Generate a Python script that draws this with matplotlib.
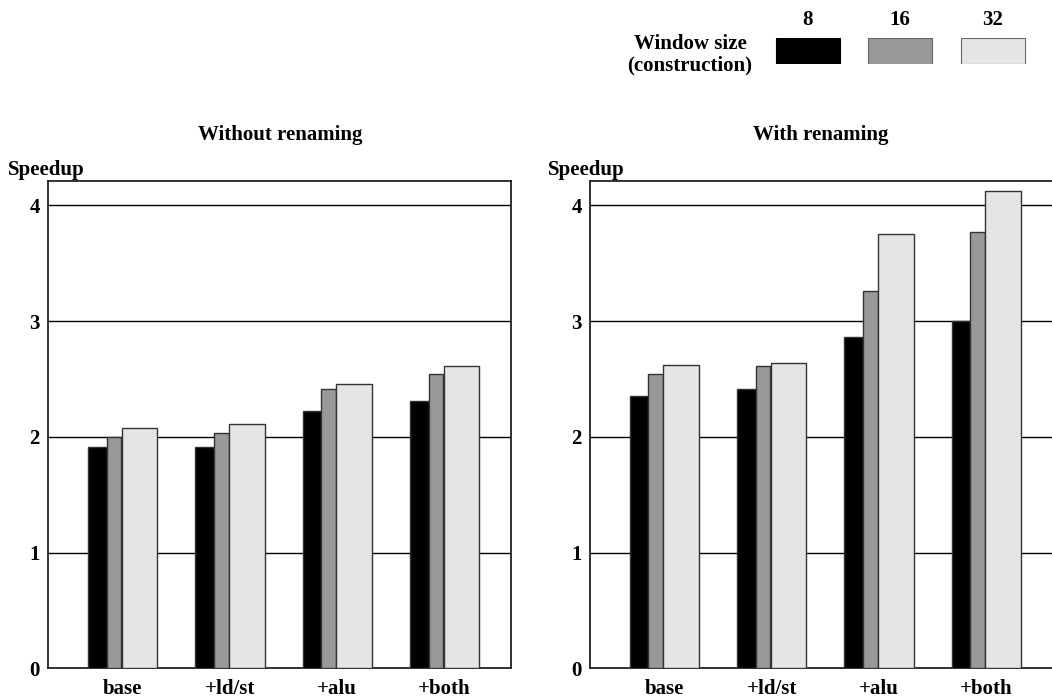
import matplotlib.pyplot as plt

plt.rcParams['font.family'] = ['Liberation Serif', 'DejaVu Serif']
plt.rcParams['font.weight'] = 'bold'
plt.rcParams['font.size'] = 15

# data
categories = ['base', '+ld/st', '+alu', '+both']
window_sizes = ['8', '16', '32']
colors = ['#000000', '#999999', '#e5e5e5']

no_rename_8 = [1.91, 1.91, 2.22, 2.31]
no_rename_16 = [2.00, 2.03, 2.41, 2.54]
no_rename_32 = [2.08, 2.11, 2.46, 2.61]

rename_8 = [2.35, 2.41, 2.86, 3.00]
rename_16 = [2.54, 2.61, 3.26, 3.77]
rename_32 = [2.62, 2.64, 3.75, 4.12]

yticks = [0, 1, 2, 3, 4]

# bar layout inside one group (group spacing = 1), widths differ per series
bar_left = [0.0, 0.174, 0.314]
bar_width = [0.174, 0.137, 0.332]
group_center = 0.323

W, H = 1052, 698
fig = plt.figure(figsize=(W / 100, H / 100), dpi=100)


def px_axes(x0, y0, x1, y1):
    # pixel box (top-left origin) -> figure axes
    return fig.add_axes([x0 / W, 1 - y1 / H, (x1 - x0) / W, (y1 - y0) / H])


def draw_panel(ax, series, title, title_x, label_x):
    for k, vals in enumerate(series):
        xs = [i + bar_left[k] for i in range(len(categories))]
        ax.bar(xs, vals, width=bar_width[k], align='edge', color=colors[k],
               edgecolor='#333333', linewidth=1.0, zorder=3)
    ax.set_xlim(-0.370, 3.945)
    ax.set_ylim(0, 4.207)
    ax.set_yticks(yticks)
    ax.set_yticklabels([str(t) for t in yticks])
    ax.set_xticks([i + group_center for i in range(len(categories))])
    ax.set_xticklabels(categories)
    ax.tick_params(axis='both', length=0)
    ax.tick_params(axis='y', pad=6)
    ax.tick_params(axis='x', pad=8)
    for t in yticks[1:]:
        ax.axhline(t, color='black', lw=1.0, zorder=1)
    for s in ax.spines.values():
        s.set_linewidth(1.3)
        s.set_color('#222222')
    fig.text(title_x / W, 1 - 140 / H, title, ha='center', va='baseline')
    fig.text(label_x / W, 1 - 175 / H, 'Speedup', ha='left', va='baseline')


ax1 = px_axes(48.3, 181.3, 511.3, 668.3)
draw_panel(ax1, [no_rename_8, no_rename_16, no_rename_32],
           'Without renaming', 280, 8)

ax2 = px_axes(590, 181.3, 1053, 668.3)
draw_panel(ax2, [rename_8, rename_16, rename_32],
           'With renaming', 821, 548)

# legend: small axes with three swatches, sizes written above
lax = px_axes(761.5, 38.3, 1039, 64.3)
lax.bar(range(3), [1, 1, 1], width=0.697, color=colors,
        edgecolor=['#000000', '#666666', '#666666'], linewidth=0.8)
lax.set_xlim(-0.5, 2.5)
lax.set_ylim(0, 1)
lax.axis('off')
for i, lab in enumerate(window_sizes):
    lax.annotate(lab, (i, 1), xytext=(0, 9.5), textcoords='offset points',
                 ha='center', va='baseline')
fig.text(690 / W, 1 - 49 / H, 'Window size', ha='center', va='baseline')
fig.text(690 / W, 1 - 70 / H, '(construction)', ha='center', va='baseline')

fig.savefig('out.png', dpi=100)
